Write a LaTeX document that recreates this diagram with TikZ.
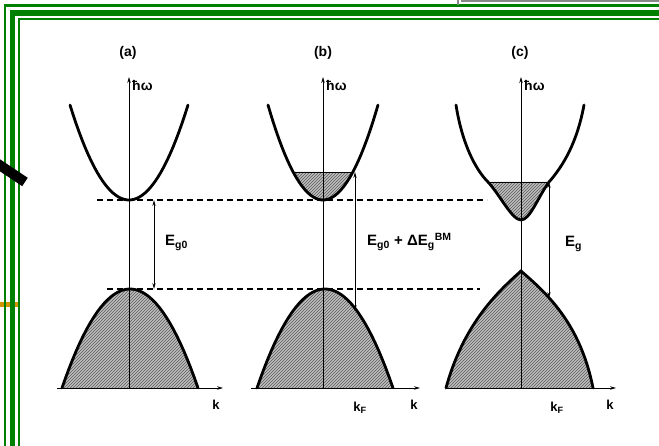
\documentclass[tikz,border=0pt]{standalone}
\usepackage{fontspec}
\setmainfont{Liberation Sans}
\usetikzlibrary{arrows.meta,patterns}
\definecolor{slidegreen}{RGB}{0,128,0}
\definecolor{slideorange}{RGB}{210,150,0}
\definecolor{slidegrey}{RGB}{136,136,136}

\tikzset{
  band/.style={line width=2.8pt, line cap=round},
  hatched/.style={fill=gray!50, postaction={pattern=north east lines, pattern color=black!65}},
  axis/.style={line width=0.8pt, -{Stealth[length=6pt,width=3.5pt]}},
  gaparrow/.style={line width=0.8pt, {Stealth[length=6pt,width=3.2pt]}-{Stealth[length=6pt,width=3.2pt]}},
  level/.style={line width=1.4pt, dash pattern=on 6pt off 4pt},
  lbl/.style={font=\bfseries\fontsize{14}{16}\selectfont, inner sep=0pt},
  elbl/.style={font=\bfseries\fontsize{15}{17}\selectfont, inner sep=0pt, anchor=west},
  klbl/.style={font=\bfseries\fontsize{13}{15}\selectfont, inner sep=0pt},
}

\begin{document}
\begin{tikzpicture}[x=1pt,y=-1pt]
    \useasboundingbox (0,0) rectangle (659,446);
    % slide frame
    \fill[slideorange] (0,302) rectangle (19,307);
    \draw[slidegreen, line width=2.2pt] (5,446) -- (5,5.5) -- (659,5.5);
    \draw[slidegreen, line width=5.8pt] (12.5,446) -- (12.5,12.7) -- (659,12.7);
    \draw[slidegreen, line width=2.6pt] (19,446) -- (19,19) -- (659,19);
    \draw[slidegrey, line width=2.5pt] (458,0) -- (458,5);
    \draw[slidegrey, line width=2.5pt] (461,1) -- (659,1);
    \draw[line width=10pt] (-5,162) -- (25,182);

    % filled parts of the bands
    \fill[hatched] plot[domain=-1:1, samples=40] ({130+68*\x},{289+99*\x*\x}) -- cycle;
    \fill[hatched] plot[domain=-1:1, samples=40] ({325+68*\x},{289+99*\x*\x}) -- cycle;
    \fill[hatched] plot[domain=-0.543:0.543, samples=20] ({323+55*\x},{200-95*\x*\x}) -- cycle;
    \fill[hatched] (446,388) .. controls (464,322) and (500,290) .. (521,271)
        .. controls (545,292) and (580,322) .. (593,388) -- cycle;
    \fill[hatched] (488,182) .. controls (500,195) and (512,220) .. (521,220)
        .. controls (530,220) and (538,197) .. (549,182) -- cycle;
    \draw[line width=0.7pt] (293,172) -- (353,172);
    \draw[line width=0.7pt] (488,182) -- (549,182);

    % axes
    \coordinate (a0) at (129,388);
    \coordinate (b0) at (323,388);
    \coordinate (c0) at (521,388);
    \coordinate (atop) at (129,77);
    \coordinate (btop) at (323,77);
    \coordinate (ctop) at (521,77);
    \coordinate (aleft) at (57,388);
    \coordinate (bleft) at (251,388);
    \coordinate (cleft) at (446,388);
    \coordinate (aright) at (223,388);
    \coordinate (bright) at (420,388);
    \coordinate (cright) at (616,388);
    \draw[axis] (a0) -- (atop);
    \draw[axis] (b0) -- (btop);
    \draw[axis] (c0) -- (ctop);
    \draw[axis] (aleft) -- (aright);
    \draw[axis] (bleft) -- (bright);
    \draw[axis] (cleft) -- (cright);

    % band edges
    \draw[band] plot[domain=-1:1, samples=40] ({129+59*\x},{200-95*\x*\x});
    \draw[band] plot[domain=-1:1, samples=40] ({130+68*\x},{289+99*\x*\x});
    \draw[band] plot[domain=-1:1, samples=40] ({323+55*\x},{200-95*\x*\x});
    \draw[band] plot[domain=-1:1, samples=40] ({325+68*\x},{289+99*\x*\x});
    \draw[band] (456,105) .. controls (462,143) and (475,169) .. (488,182)
        .. controls (500,195) and (512,220) .. (521,220)
        .. controls (530,220) and (538,197) .. (549,182)
        .. controls (563,166) and (577,143) .. (584,105);
    \draw[band] (446,388) .. controls (464,322) and (500,290) .. (521,271)
        .. controls (545,292) and (580,322) .. (593,388);

    % gap levels
    \draw[level] (97,200) -- (487,200);
    \draw[level] (107,289) -- (480,289);
    \coordinate (gaptop) at (154,200);
    \coordinate (gapbot) at (154,289);
    \coordinate (bmtop) at (355,172);
    \coordinate (bmbot) at (355,311);
    \coordinate (rntop) at (549,182);
    \coordinate (rnbot) at (549,298);
    \draw[gaparrow] (gaptop) -- (gapbot);
    \draw[gaparrow] (bmtop) -- (bmbot);
    \draw[gaparrow] (rntop) -- (rnbot);

    % labels
    \node[lbl] (pa) at (128,53) {(a)};
    \node[lbl] (pb) at (323,53) {(b)};
    \node[lbl] (pc) at (520,53) {(c)};
    \node[lbl, anchor=west] (hwa) at (132,85) {ħω};
    \node[lbl, anchor=west] (hwb) at (326,85) {ħω};
    \node[lbl, anchor=west] (hwc) at (524,85) {ħω};
    \node[elbl] (ega) at (165,243) {E\textsubscript{g0}};
    \node[elbl] (egb) at (367,242) {E\textsubscript{g0} + ΔE\textsubscript{g}\textsuperscript{BM}};
    \node[elbl] (egc) at (565,244) {E\textsubscript{g}};
    \node[klbl] (ka) at (216,405) {k};
    \node[klbl] (kfb) at (360,408) {k\textsubscript{F}};
    \node[klbl] (kb) at (414,405) {k};
    \node[klbl] (kfc) at (557,408) {k\textsubscript{F}};
    \node[klbl] (kc) at (610,405) {k};
\end{tikzpicture}
\end{document}
